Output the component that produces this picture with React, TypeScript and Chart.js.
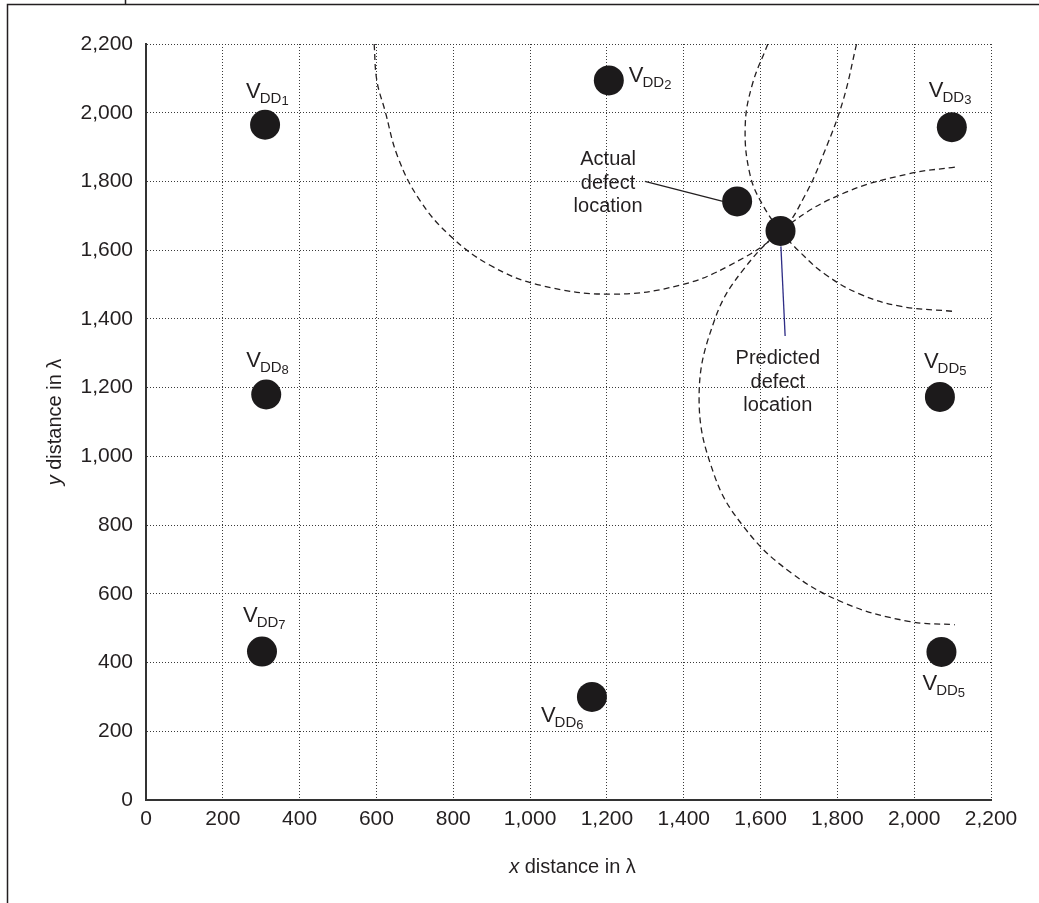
import React, { useEffect, useRef } from 'react';
import { Chart, registerables } from 'chart.js';

Chart.register(...registerables);

// ---------- data ----------
const axisMin = 0;
const axisMax = 2200;
const axisStep = 200;

// supply sources (V_DD n)
const sourceNames = ['1', '2', '3', '8', '5', '7', '6', '5'];
const sourceX = [310, 1205, 2098, 313, 2067, 302, 1161, 2071];
const sourceY = [1965, 2094, 1958, 1180, 1173, 432, 300, 431];

// defect locations
const defectNames = ['Actual defect location', 'Predicted defect location'];
const defectX = [1539, 1652];
const defectY = [1742, 1656];

// dashed distance arcs (traced)
const arcAX = [594, 601, 622, 656, 713, 791, 896, 1026, 1213, 1390, 1520, 1653, 1716, 1768, 1815, 1850];
const arcAY = [2200, 2094, 2007, 1870, 1745, 1643, 1556, 1498, 1472, 1498, 1556, 1655, 1760, 1891, 2036, 2200];
const arcBX = [1619, 1578, 1560, 1573, 1606, 1653, 1703, 1768, 1859, 1963, 2101];
const arcBY = [2200, 2080, 1958, 1818, 1731, 1655, 1594, 1530, 1472, 1437, 1422];
const arcCX = [2106, 1985, 1821, 1676, 1559, 1480, 1440, 1480, 1559, 1676, 1821, 1985, 2106];
const arcCY = [1842, 1822, 1768, 1676, 1549, 1396, 1170, 944, 791, 664, 572, 520, 510];

// annotation anchors (data units)
const actualTextX = 1203;
const actualTextY = 1795;
const actualLeaderX = [1299, 1502];
const actualLeaderY = [1800, 1742];
const predictedTextX = 1645;
const predictedTextY = 1216;
const predictedLeaderX = [1653, 1664];
const predictedLeaderY = [1611, 1350];

// ---------- styling ----------
const FONT = '"Liberation Sans", Arial, Helvetica, sans-serif';
const TEXT = '#231f20';
const DOT = '#1c1a1b';
// label offsets in px from the circle centre (left of "V", baseline)
const labelOffsets: [number, number][] = [
  [-19, -27],
  [20, 2],
  [-23, -30],
  [-20, -28],
  [-16, -29],
  [-19, -30],
  [-51, 25],
  [-19, 38],
];

function zip(xs: number[], ys: number[]) {
  return xs.map((v, i) => ({ x: v, y: ys[i] }));
}

function drawVdd(ctx: CanvasRenderingContext2D, x: number, y: number, n: string) {
  ctx.textAlign = 'left';
  ctx.textBaseline = 'alphabetic';
  ctx.font = `22px ${FONT}`;
  ctx.fillText('V', x, y);
  const w1 = ctx.measureText('V').width;
  ctx.font = `15px ${FONT}`;
  ctx.fillText('DD', x + w1 - 1, y + 5);
  const w2 = ctx.measureText('DD').width;
  ctx.font = `13px ${FONT}`;
  ctx.fillText(n, x + w1 - 1 + w2, y + 7);
}

const overlayPlugin = {
  id: 'overlay',
  beforeDraw(chart: any) {
    const ctx = chart.ctx as CanvasRenderingContext2D;
    ctx.save();
    ctx.fillStyle = '#ffffff';
    ctx.fillRect(0, 0, chart.width, chart.height);
    ctx.strokeStyle = '#231f20';
    ctx.lineWidth = 1.5;
    ctx.beginPath();
    ctx.moveTo(7.5, chart.height);
    ctx.lineTo(7.5, 4.5);
    ctx.lineTo(chart.width, 4.5);
    ctx.moveTo(125.5, 0);
    ctx.lineTo(125.5, 4.5);
    ctx.stroke();
    ctx.restore();
  },
  afterDatasetsDraw(chart: any) {
    const ctx = chart.ctx as CanvasRenderingContext2D;
    const xs = chart.scales.x;
    const ys = chart.scales.y;
    const px = (v: number) => xs.getPixelForValue(v);
    const py = (v: number) => ys.getPixelForValue(v);
    ctx.save();
    ctx.fillStyle = TEXT;
    sourceNames.forEach((n, i) => {
      const [dx, dy] = labelOffsets[i];
      drawVdd(ctx, px(sourceX[i]) + dx, py(sourceY[i]) + dy, n);
    });

    // leaders
    ctx.lineWidth = 1.3;
    ctx.strokeStyle = '#231f20';
    ctx.beginPath();
    ctx.moveTo(px(actualLeaderX[0]), py(actualLeaderY[0]));
    ctx.lineTo(px(actualLeaderX[1]), py(actualLeaderY[1]));
    ctx.stroke();
    ctx.strokeStyle = '#2e2d86';
    ctx.beginPath();
    ctx.moveTo(px(predictedLeaderX[0]), py(predictedLeaderY[0]));
    ctx.lineTo(px(predictedLeaderX[1]), py(predictedLeaderY[1]));
    ctx.stroke();

    // annotation texts
    ctx.font = `20px ${FONT}`;
    ctx.textAlign = 'center';
    ctx.textBaseline = 'middle';
    const texts = [
      { t: defectNames[0], x: actualTextX, y: actualTextY },
      { t: defectNames[1], x: predictedTextX, y: predictedTextY },
    ];
    texts.forEach(({ t, x, y }) => {
      const words = t.split(' ');
      const cx = px(x);
      const cy = py(y);
      words.forEach((w, k) => {
        ctx.fillText(w, cx, cy + (k - 1) * 23.5);
      });
    });

    // axis titles
    const area = chart.chartArea;
    ctx.textBaseline = 'middle';
    ctx.textAlign = 'left';
    const drawTitle = (italic: string, rest: string, cx: number, cy: number, rot: number) => {
      ctx.save();
      ctx.translate(cx, cy);
      ctx.rotate(rot);
      ctx.font = `italic 20px ${FONT}`;
      const w1 = ctx.measureText(italic).width;
      ctx.font = `20px ${FONT}`;
      const w2 = ctx.measureText(rest).width;
      const start = -(w1 + w2) / 2;
      ctx.font = `italic 20px ${FONT}`;
      ctx.fillText(italic, start, 0);
      ctx.font = `20px ${FONT}`;
      ctx.fillText(rest, start + w1, 0);
      ctx.restore();
    };
    drawTitle('x', ' distance in λ', (area.left + area.right) / 2 + 4, 867, 0);
    drawTitle('y', ' distance in λ', 55, (area.top + area.bottom) / 2, -Math.PI / 2);
    ctx.restore();
  },
};

export default function App() {
  const ref = useRef<HTMLCanvasElement | null>(null);

  useEffect(() => {
    if (!ref.current) return;
    const arcStyle = {
      showLine: true,
      borderColor: '#231f20',
      borderWidth: 1.3,
      borderDash: [6, 4],
      pointRadius: 0,
      pointHoverRadius: 0,
      tension: 0.4,
      fill: false,
      order: 2,
    };
    const chart = new Chart(ref.current, {
      type: 'scatter',
      data: {
        datasets: [
          { ...arcStyle, label: 'arcA', data: zip(arcAX, arcAY) },
          { ...arcStyle, label: 'arcB', data: zip(arcBX, arcBY) },
          { ...arcStyle, label: 'arcC', data: zip(arcCX, arcCY) },
          {
            label: 'sources',
            data: zip(sourceX, sourceY),
            pointRadius: 15,
            pointBackgroundColor: DOT,
            pointBorderWidth: 0,
            borderColor: DOT,
            order: 0,
          },
          {
            label: 'defects',
            data: zip(defectX, defectY),
            pointRadius: 15,
            pointBackgroundColor: DOT,
            pointBorderWidth: 0,
            borderColor: DOT,
            order: 0,
          },
        ],
      } as any,
      options: {
        responsive: false,
        animation: false,
        devicePixelRatio: 1,
        layout: { padding: { left: 0, top: 44, right: 48, bottom: 0 } },
        plugins: { legend: { display: false }, tooltip: { enabled: false }, title: { display: false } },
        scales: {
          x: {
            type: 'linear',
            min: axisMin,
            max: axisMax,
            afterFit: (s: any) => {
              s.height = 103;
            },
            ticks: {
              stepSize: axisStep,
              color: TEXT,
              padding: 7,
              font: { family: FONT, size: 21 },
              callback: (v: any) => Number(v).toLocaleString('en-US'),
            },
            grid: { color: '#3a3a3a', lineWidth: 1, drawTicks: false },
            border: { display: true, color: '#333333', width: 2, dash: [1, 2] },
          },
          y: {
            type: 'linear',
            min: axisMin,
            max: axisMax,
            afterFit: (s: any) => {
              s.width = 146;
            },
            ticks: {
              stepSize: axisStep,
              color: TEXT,
              padding: 13,
              font: { family: FONT, size: 21 },
              callback: (v: any) => Number(v).toLocaleString('en-US'),
            },
            grid: { color: '#3a3a3a', lineWidth: 1, drawTicks: false },
            border: { display: true, color: '#333333', width: 2, dash: [1, 2] },
          },
        },
      } as any,
      plugins: [overlayPlugin],
    });
    return () => chart.destroy();
  }, []);

  return (
    <div style={{ position: 'fixed', left: 0, top: 0, width: 1039, height: 903, background: '#fff' }}>
      <canvas ref={ref} width={1039} height={903} style={{ width: 1039, height: 903, display: 'block' }} />
    </div>
  );
}
